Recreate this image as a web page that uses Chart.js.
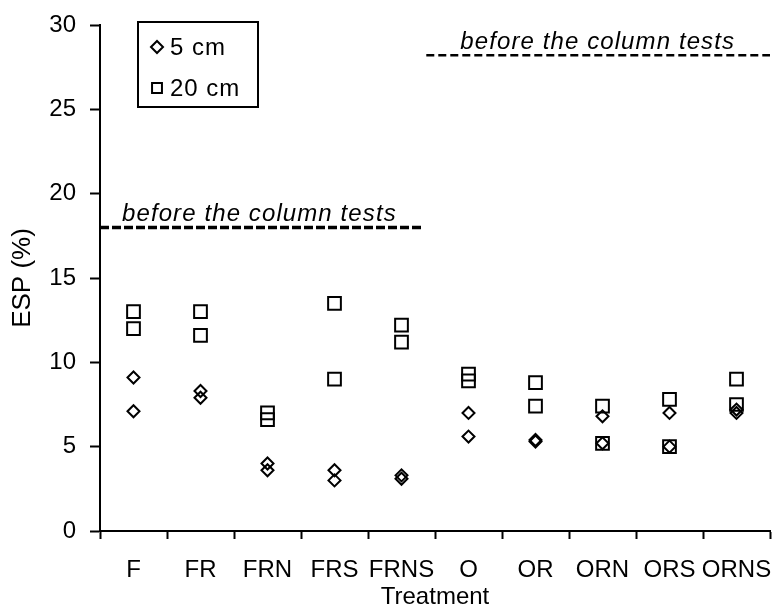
<!DOCTYPE html>
<html>
<head>
<meta charset="utf-8">
<script src="https://cdn.jsdelivr.net/npm/chart.js@4"></script>
<style>
  html, body { margin: 0; padding: 0; background: #fff; }
</style>
</head>
<body>
<canvas id="espChart" width="781" height="612"></canvas>
<script>
const treatments = ['F', 'FR', 'FRN', 'FRS', 'FRNS', 'O', 'OR', 'ORN', 'ORS', 'ORNS'];

// ESP (%) at 5 cm depth, two replicate columns
const esp5cmA = [9.1, 8.3, 4.0, 3.6, 3.3, 7.0, 5.4, 6.8, 7.0, 7.2];
const esp5cmB = [7.1, 7.9, 3.6, 3.0, 3.1, 5.6, 5.3, 5.2, 5.0, 7.0];

// ESP (%) at 20 cm depth, two replicate columns
const esp20cmA = [13.0, 13.0, 7.0, 13.5, 12.2, 9.3, 8.8, 7.4, 7.8, 9.0];
const esp20cmB = [12.0, 11.6, 6.6, 9.0, 11.2, 8.9, 7.4, 5.2, 5.0, 7.5];

// initial ESP before the column tests (F soils, O soils)
const initialEsp = [18.0, 28.2];
const initialSpan = [[0, 4.83], [4.87, 10]];
const initialLabel = 'before the column tests';

const yTicks = [0, 5, 10, 15, 20, 25, 30];

const FONT = '"Liberation Sans", Arial, sans-serif';

const toPoints = (a, b) => treatments.flatMap((t, i) => [{ x: t, y: a[i] }, { x: t, y: b[i] }]);

const initialLines = initialEsp.map((v, i) => ({
  type: 'line',
  xAxisID: 'x2',
  data: [{ x: initialSpan[i][0], y: v }, { x: initialSpan[i][1], y: v }],
  borderColor: '#000',
  borderWidth: i === 0 ? 3.5 : 2.5,
  borderDash: i === 0 ? [9, 3] : [8, 4],
  pointRadius: 0,
  fill: false
}));

const overlay = {
  id: 'overlay',
  afterDatasetsDraw(chart) {
    const { ctx, chartArea, scales: { x2, y } } = chart;
    ctx.save();
    ctx.fillStyle = '#000';

    // labels over the dashed reference lines
    ctx.font = 'italic 24px ' + FONT;
    ctx.letterSpacing = '1.1px';
    ctx.textAlign = 'left';
    ctx.textBaseline = 'alphabetic';
    const shift = [22, 34];
    initialEsp.forEach((v, i) => {
      const px = x2.getPixelForValue(initialSpan[i][0]) + shift[i];
      ctx.fillText(initialLabel, px, y.getPixelForValue(v) - 6);
    });

    // legend box
    const lx = chartArea.left + 38, ly = chartArea.top - 3;
    ctx.lineWidth = 2;
    ctx.strokeStyle = '#000';
    ctx.strokeRect(lx, ly, 120, 85);
    ctx.font = '24px ' + FONT;
    ctx.letterSpacing = '1px';
    ctx.textBaseline = 'middle';
    const items = [['5 cm', 'rectRot', 6], ['20 cm', 'rect', 7]];
    items.forEach(([text, style, r], i) => {
      const cy = ly + 25 + i * 41;
      ctx.fillStyle = 'rgba(0,0,0,0)';
      Chart.helpers.drawPoint(ctx, { pointStyle: style, radius: r, borderWidth: 2 }, lx + 19, cy);
      ctx.fillStyle = '#000';
      ctx.fillText(text, lx + 32, cy + 1);
    });
    ctx.restore();
  }
};

new Chart(document.getElementById('espChart'), {
  type: 'line',
  data: {
    labels: treatments,
    datasets: [
      {
        label: '5 cm',
        data: toPoints(esp5cmA, esp5cmB),
        showLine: false,
        pointStyle: 'rectRot',
        pointRadius: 6,
        pointBorderWidth: 2,
        pointBorderColor: '#000',
        pointBackgroundColor: 'rgba(0,0,0,0)'
      },
      {
        label: '20 cm',
        data: toPoints(esp20cmA, esp20cmB),
        showLine: false,
        pointStyle: 'rect',
        pointRadius: 9,
        pointBorderWidth: 2,
        pointBorderColor: '#000',
        pointBackgroundColor: 'rgba(0,0,0,0)'
      },
      ...initialLines
    ]
  },
  options: {
    responsive: false,
    animation: false,
    layout: { padding: { left: 0, right: 4, top: 25, bottom: 0 } },
    plugins: {
      legend: { display: false },
      tooltip: { enabled: false }
    },
    scales: {
      x: {
        type: 'category',
        offset: true,
        afterFit: s => {
          s.height = 81;
          s.paddingLeft = 0;
          s.paddingRight = 0;
        },
        grid: {
          offset: true,
          drawOnChartArea: false,
          drawTicks: true,
          tickLength: 8,
          tickWidth: 2,
          tickColor: '#000'
        },
        border: { display: true, color: '#000', width: 2 },
        ticks: {
          color: '#000',
          font: { family: FONT, size: 24 },
          padding: 17,
          autoSkip: false,
          maxRotation: 0,
          minRotation: 0
        },
        title: {
          display: true,
          text: 'Treatment',
          color: '#000',
          font: { family: FONT, size: 24 },
          padding: { top: 0, bottom: 0 }
        }
      },
      x2: {
        type: 'linear',
        min: 0,
        max: 10,
        display: false
      },
      y: {
        min: 0,
        max: 30,
        afterFit: s => {
          s.width = 100;
          s.paddingTop = 0;
          s.paddingBottom = 0;
        },
        afterBuildTicks: s => { s.ticks = yTicks.map(v => ({ value: v })); },
        grid: {
          drawOnChartArea: false,
          drawTicks: true,
          tickLength: 10,
          tickWidth: 2,
          tickColor: '#000'
        },
        border: { display: true, color: '#000', width: 2 },
        ticks: {
          color: '#000',
          font: { family: FONT, size: 24 },
          padding: 14
        },
        title: {
          display: true,
          text: 'ESP (%)',
          color: '#000',
          font: { family: FONT, size: 26 },
          padding: { top: 7, bottom: 0 }
        }
      }
    }
  },
  plugins: [overlay]
});
</script>
</body>
</html>
